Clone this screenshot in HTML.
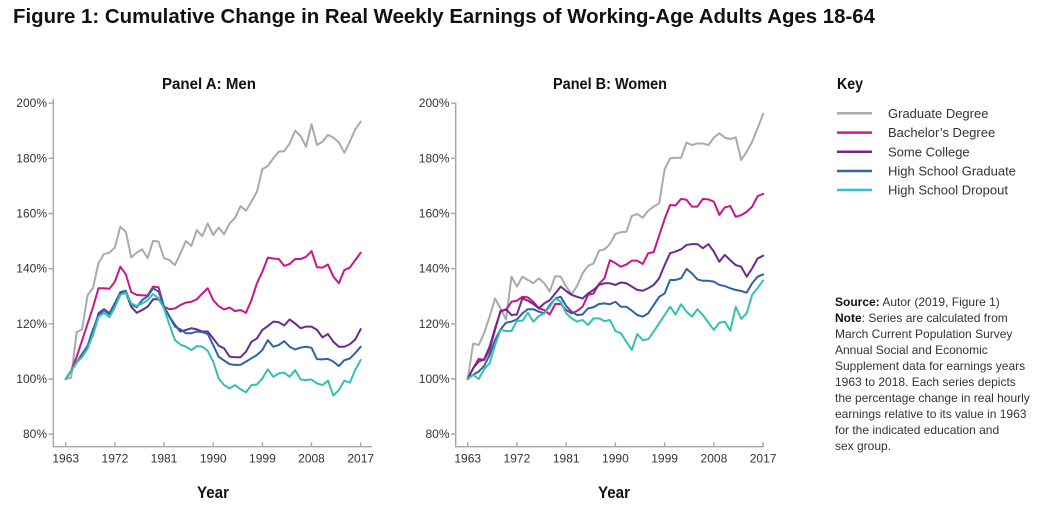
<!DOCTYPE html>
<html><head><meta charset="utf-8"><style>
html,body{margin:0;padding:0;background:#fff;}
svg{display:block;font-family:"Liberation Sans",sans-serif;}
.tk{font-size:12px;fill:#333;}
.ln{fill:none;stroke-width:2;stroke-linejoin:round;stroke-linecap:round;}
.ax{stroke:#a6a6a6;stroke-width:1.4;fill:none;}
.lg{font-size:13px;fill:#333;}
.src{font-size:12px;fill:#333;}
</style></head><body>
<svg width="1050" height="525" viewBox="0 0 1050 525" xmlns="http://www.w3.org/2000/svg">
<rect width="1050" height="525" fill="#fff"/>
<text x="13" y="23" font-size="20" font-weight="bold" fill="#111" textLength="862" lengthAdjust="spacingAndGlyphs">Figure 1:  Cumulative Change in Real Weekly Earnings of Working-Age Adults Ages 18-64</text>

<!-- Panel A -->
<text x="209" y="89" text-anchor="middle" font-size="15.5" font-weight="bold" fill="#111" textLength="94" lengthAdjust="spacingAndGlyphs">Panel A: Men</text>
<path class="ax" d="M53.3,99 V446.7 H372"/>
<g class="ax">
<path d="M48.5,103.2H53.3M48.5,158.3H53.3M48.5,213.5H53.3M48.5,268.7H53.3M48.5,323.8H53.3M48.5,379H53.3M48.5,434.2H53.3"/>
<path d="M65.7,442.4V446.7M114.9,442.4V446.7M164,442.4V446.7M213.2,442.4V446.7M262.4,442.4V446.7M311.5,442.4V446.7M360.7,442.4V446.7"/>
</g>
<g class="tk" text-anchor="end">
<text x="47" y="107.2">200%</text><text x="47" y="162.3">180%</text><text x="47" y="217.5">160%</text><text x="47" y="272.7">140%</text><text x="47" y="327.8">120%</text><text x="47" y="383">100%</text><text x="47" y="438.2">80%</text>
</g>
<g class="tk" text-anchor="middle">
<text x="65.7" y="462.5">1963</text><text x="114.9" y="462.5">1972</text><text x="164" y="462.5">1981</text><text x="213.2" y="462.5">1990</text><text x="262.4" y="462.5">1999</text><text x="311.5" y="462.5">2008</text><text x="360.7" y="462.5">2017</text>
</g>
<text x="213" y="498" text-anchor="middle" font-size="17" font-weight="bold" fill="#111" textLength="32" lengthAdjust="spacingAndGlyphs">Year</text>

<g transform="translate(65.7,654.83) scale(5.463,-2.7583)">
<polyline class="ln" vector-effect="non-scaling-stroke" stroke="#aaaaaa" points="0,100 1,100.5 2,117 3,118 4,130.4 5,133 6,142 7,145.3 8,145.8 9,147.7 10,155.2 11,153.4 12,144.1 13,145.8 14,147 15,143.8 16,150.1 17,149.8 18,143.8 19,143.1 20,141.3 21,145.6 22,150 23,148.2 24,154 25,151.8 26,156.4 27,152.2 28,154.9 29,152.5 30,156.4 31,158.4 32,162.7 33,161 34,164.3 35,167.9 36,176.1 37,177.2 38,180 39,182.4 40,182.6 41,185.4 42,190 43,188.1 44,184.2 45,192.4 46,184.9 47,186 48,188.5 49,187.5 50,185.8 51,182 52,186 53,190.5 54,193.3"/>
<polyline class="ln" vector-effect="non-scaling-stroke" stroke="#c8168c" points="0,100 1,103 2,108 3,114 4,120 5,126 6,132.9 7,132.9 8,132.7 9,135.3 10,140.7 11,138 12,131.5 13,130.5 14,130.3 15,130.3 16,133.5 17,133.2 18,126.2 19,125.3 20,125.6 21,126.8 22,127.7 23,128 24,128.9 25,131 26,132.9 27,128.6 28,126.4 29,125.2 30,125.9 31,124.6 32,125 33,124 34,128.6 35,134.7 36,138.9 37,144 38,143.7 39,143.5 40,141 41,141.7 42,143.5 43,143.5 44,144.3 45,146.4 46,140.5 47,140.4 48,141.5 49,137.1 50,134.7 51,139.5 52,140.4 53,143.1 54,145.8"/>
<polyline class="ln" vector-effect="non-scaling-stroke" stroke="#6c2b8a" points="0,100 1,103 2,106 3,109 4,112 5,117 6,123.8 7,125.3 8,123.8 9,127.5 10,131 11,131.3 12,126.2 13,124 14,125 15,126.2 16,128.9 17,128.9 18,126.2 19,122.6 20,119.6 21,117.2 22,117.8 23,118.4 24,118 25,117.2 26,117.2 27,114.7 28,112.1 29,111.1 30,108.1 31,107.9 32,107.9 33,109.9 34,113.5 35,114.7 36,117.8 37,119.2 38,120.8 39,120.6 40,119.4 41,121.6 42,120.1 43,118.4 44,119 45,119 46,117.8 47,115.1 48,116.3 49,113.5 50,111.7 51,111.7 52,112.6 53,114.3 54,118.1"/>
<polyline class="ln" vector-effect="non-scaling-stroke" stroke="#2f62a4" points="0,100 1,103 2,106 3,109 4,112 5,118 6,123 7,125 8,123.5 9,127.5 10,131.5 11,132 12,127 13,126 14,128.6 15,130 16,132.9 17,131.7 18,126.2 19,122.6 20,119 21,118 22,116.6 23,116.6 24,117.2 25,117 26,116.3 27,112.3 28,108.1 29,106.7 30,105.4 31,105.1 32,105.1 33,106.3 34,107.5 35,108.7 36,110.5 37,114.1 38,111.7 39,112.3 40,113.7 41,111.7 42,110.7 43,111.4 44,111.7 45,111.3 46,107.2 47,107.1 48,107.3 49,106.3 50,104.7 51,106.8 52,107.4 53,109.4 54,111.7"/>
<polyline class="ln" vector-effect="non-scaling-stroke" stroke="#36bfb3" points="0,100 1,103 2,106 3,108 4,111 5,116 6,122.5 7,124 8,122.4 9,126 10,130.5 11,131.3 12,127.4 13,126.5 14,127.4 15,128.6 16,130.8 17,129.2 18,125.6 19,119.6 20,114.1 21,112.5 22,111.7 23,110.5 24,111.9 25,111.7 26,110.2 27,106.3 28,100.2 29,97.8 30,96.6 31,97.8 32,96.3 33,95.2 34,97.8 35,98 36,100.2 37,103.5 38,100.8 39,102 40,102.3 41,100.8 42,103.2 43,99.8 44,99.6 45,99.8 46,98.4 47,97.8 48,99.4 49,94 50,96 51,99.4 52,98.7 53,103.3 54,106.9"/>
</g>

<!-- Panel B -->
<text x="610" y="89" text-anchor="middle" font-size="15.5" font-weight="bold" fill="#111" textLength="114" lengthAdjust="spacingAndGlyphs">Panel B: Women</text>
<path class="ax" d="M455.7,102.5 V446.7 H764"/>
<g class="ax">
<path d="M451,103.2H455.7M451,158.3H455.7M451,213.5H455.7M451,268.7H455.7M451,323.8H455.7M451,379H455.7M451,434.2H455.7"/>
<path d="M467.7,442.4V446.7M516.9,442.4V446.7M566.2,442.4V446.7M615.4,442.4V446.7M664.6,442.4V446.7M713.9,442.4V446.7M763.1,442.4V446.7"/>
</g>
<g class="tk" text-anchor="end">
<text x="449.5" y="107.2">200%</text><text x="449.5" y="162.3">180%</text><text x="449.5" y="217.5">160%</text><text x="449.5" y="272.7">140%</text><text x="449.5" y="327.8">120%</text><text x="449.5" y="383">100%</text><text x="449.5" y="438.2">80%</text>
</g>
<g class="tk" text-anchor="middle">
<text x="467.7" y="462.5">1963</text><text x="516.9" y="462.5">1972</text><text x="566.2" y="462.5">1981</text><text x="615.4" y="462.5">1990</text><text x="664.6" y="462.5">1999</text><text x="713.9" y="462.5">2008</text><text x="763.1" y="462.5">2017</text>
</g>
<text x="614" y="498" text-anchor="middle" font-size="17" font-weight="bold" fill="#111" textLength="32" lengthAdjust="spacingAndGlyphs">Year</text>

<g transform="translate(467.7,654.83) scale(5.47,-2.7583)">
<polyline class="ln" vector-effect="non-scaling-stroke" stroke="#aaaaaa" points="0,100 1,112.9 2,112.3 3,116.6 4,122.6 5,129.2 6,125.6 7,121.6 8,137.1 9,133.5 10,137.1 11,135.9 12,134.7 13,136.5 14,134.7 15,131.7 16,137.3 17,137.1 18,133.5 19,130.8 20,133.7 21,138.3 22,141 23,141.9 24,146.5 25,147 26,148.9 27,152.6 28,153.2 29,153.4 30,159.1 31,159.8 32,158.5 33,161 34,162.5 35,163.7 36,176 37,180 38,180.2 39,180.2 40,185.7 41,184.8 42,185.4 43,185.4 44,184.8 45,187.5 46,189.1 47,187.5 48,187 49,187.6 50,179.4 51,182.4 52,186 53,190.9 54,196.1"/>
<polyline class="ln" vector-effect="non-scaling-stroke" stroke="#c8168c" points="0,100 1,103.9 2,107.3 3,106.9 4,110.5 5,117.8 6,124.8 7,125 8,128 9,128.4 10,129.8 11,129.6 12,128 13,125.6 14,125 15,123.4 16,127.2 17,127.2 18,125 19,123.8 20,124.7 21,126.2 22,130.5 23,131 24,134.5 25,136.5 26,143.1 27,142 28,140.7 29,141.5 30,142.9 31,142.9 32,141.7 33,145.6 34,146 35,152 36,158 37,163.1 38,162.9 39,165.3 40,165 41,162.5 42,162.5 43,165.3 44,165.1 45,164.3 46,159.5 47,162.2 48,162.7 49,158.8 50,159.4 51,160.6 52,162.5 53,166.3 54,167.1"/>
<polyline class="ln" vector-effect="non-scaling-stroke" stroke="#6c2b8a" points="0,100 1,103.9 2,106.3 3,107.1 4,111.7 5,118.4 6,124.4 7,125.3 8,123.2 9,123.4 10,129.2 11,128.4 12,127.2 13,125.6 14,127.4 15,128.6 16,131 17,133.5 18,131.9 19,130.5 20,129.8 21,129.2 22,131 23,132.3 24,134.1 25,134.7 26,134.7 27,134.1 28,135 29,134.7 30,133.5 31,132.3 32,132 33,132.9 34,134.1 35,136.5 36,141.3 37,145.6 38,146.2 39,147 40,148.6 41,148.9 42,148.9 43,147.4 44,148.9 45,146.2 46,142.5 47,145 48,143.1 49,141.3 50,140.7 51,137.1 52,140.1 53,143.7 54,144.7"/>
<polyline class="ln" vector-effect="non-scaling-stroke" stroke="#2f62a4" points="0,100 1,101.5 2,102.7 3,104.7 4,108.7 5,114.1 6,118 7,120.4 8,120.8 9,121.6 10,123.8 11,125.3 12,125.3 13,124.4 14,123.8 15,126.8 16,129.2 17,129.8 18,126.5 19,124.4 20,123.2 21,123.4 22,125.6 23,126 24,127.2 25,127.4 26,127.1 27,128 28,126.2 29,126.2 30,124.8 31,123.2 32,122.6 33,123.8 34,126.8 35,129.8 36,131 37,135.9 38,135.9 39,136.5 40,139.9 41,138.3 42,136.1 43,135.6 44,135.6 45,135.3 46,134.1 47,133.7 48,132.9 49,132.3 50,131.9 51,131.3 52,134.7 53,137.1 54,137.9"/>
<polyline class="ln" vector-effect="non-scaling-stroke" stroke="#36bfb3" points="0,100 1,101.5 2,100 3,103.5 4,105.7 5,112.3 6,117.8 7,117.4 8,117.4 9,121.1 10,121.1 11,124 12,120.8 13,122.8 14,123.8 15,126.2 16,129.2 17,128 18,123.8 19,122 20,120.8 21,121.4 22,119.6 23,122 24,122 25,121 26,121.4 27,117.4 28,116.6 29,113.5 30,110.5 31,116.3 32,114.1 33,114.4 34,117.2 35,120.2 36,123.2 37,126.2 38,123.4 39,127.1 40,124.4 41,122.6 42,125.3 43,123.2 44,120.4 45,117.8 46,120.4 47,120.8 48,117.5 49,126.2 50,121.8 51,123.8 52,130.5 53,133 54,135.7"/>
</g>

<!-- Key -->
<text x="837" y="89" font-size="15.5" font-weight="bold" fill="#111" textLength="26" lengthAdjust="spacingAndGlyphs">Key</text>
<g stroke-width="2.5">
<line x1="837" y1="113.3" x2="872" y2="113.3" stroke="#aaaaaa"/>
<line x1="837" y1="132.6" x2="872" y2="132.6" stroke="#d3188e"/>
<line x1="837" y1="151.7" x2="872" y2="151.7" stroke="#6c2b8a"/>
<line x1="837" y1="171" x2="872" y2="171" stroke="#3766a8"/>
<line x1="837" y1="190" x2="872" y2="190" stroke="#2cc4c6"/>
</g>
<g class="lg">
<text x="888" y="118">Graduate Degree</text>
<text x="888" y="137.2">Bachelor’s Degree</text>
<text x="888" y="156.3">Some College</text>
<text x="888" y="175.6">High School Graduate</text>
<text x="888" y="194.6">High School Dropout</text>
</g>

<!-- Source -->
<g class="src">
<text x="835" y="306"><tspan font-weight="bold" fill="#111">Source:</tspan> Autor (2019, Figure 1)</text>
<text x="835" y="322"><tspan font-weight="bold" fill="#111">Note</tspan>: Series are calculated from</text>
<text x="835" y="338">March Current Population Survey</text>
<text x="835" y="354">Annual Social and Economic</text>
<text x="835" y="370">Supplement data for earnings years</text>
<text x="835" y="386">1963 to 2018. Each series depicts</text>
<text x="835" y="402">the percentage change in real hourly</text>
<text x="835" y="418">earnings relative to its value in 1963</text>
<text x="835" y="434">for the indicated education and</text>
<text x="835" y="450">sex group.</text>
</g>
</svg>
</body></html>
